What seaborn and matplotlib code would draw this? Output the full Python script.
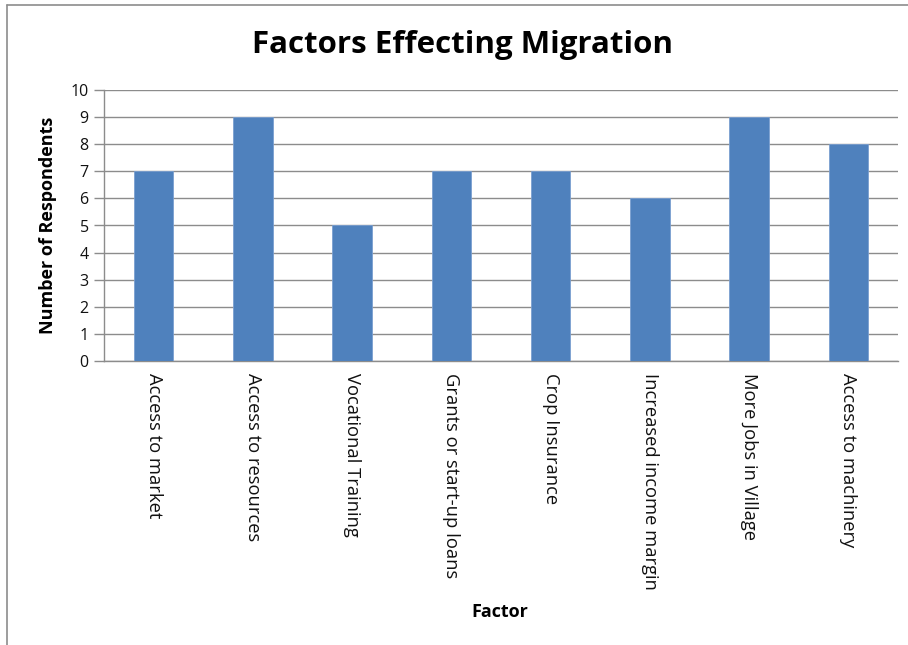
import matplotlib
matplotlib.use("Agg")
import matplotlib.pyplot as plt
import seaborn as sns
import pandas as pd
from matplotlib.lines import Line2D

factors = ["Access to market", "Access to resources", "Vocational Training",
           "Grants or start-up loans", "Crop Insurance", "Increased income margin",
           "More Jobs in Village", "Access to machinery"]
respondents = [7, 9, 5, 7, 7, 6, 9, 8]
y_ticks = list(range(0, 11))

df = pd.DataFrame({"Factor": factors, "Respondents": respondents})

sns.set_theme(style="white")
plt.rcParams["font.family"] = ["Open Sans", "DejaVu Sans"]

fig = plt.figure(figsize=(9.08, 6.45), dpi=100)
ax = fig.add_axes([104/908, 1-361/645, (898-104)/908, (361-90)/645])

sns.barplot(data=df, x="Factor", y="Respondents", ax=ax, color="#4F81BD",
            width=0.40, saturation=1, edgecolor="#7A9FD0", linewidth=0.6, zorder=3)

ax.set_ylim(0, 10)
ax.set_xlim(-0.5, len(factors) - 0.5)
ax.set_yticks(y_ticks)
ax.set_yticklabels([str(t) for t in y_ticks], fontsize=11.5, color="#111111")
ax.yaxis.grid(True, color="#8C8C8C", linewidth=1.0, zorder=0)
ax.set_axisbelow(True)

ax.tick_params(axis="y", which="both", left=True, length=7, width=1, color="#8C8C8C", pad=4)
ax.tick_params(axis="x", which="both", bottom=False, length=0, pad=9)
ax.set_xticks(range(len(factors)))
ax.set_xticklabels(factors, rotation=270, fontsize=13.2, color="#111111", va="top", ha="center")

for s in ["top", "right"]:
    ax.spines[s].set_visible(False)
ax.spines["left"].set_color("#8C8C8C")
ax.spines["bottom"].set_color("#8C8C8C")
ax.spines["left"].set_linewidth(1.0)
ax.spines["bottom"].set_linewidth(1.0)

ax.set_ylabel("Number of Respondents", fontsize=13, fontweight="bold", labelpad=10, color="black")
ax.set_xlabel("")
fig.text(500/908, 1-612/645, "Factor", fontsize=13, fontweight="bold", ha="center", va="center", color="black")

fig.text(463/908, 1-45/645, "Factors Effecting Migration", fontsize=22.5, fontweight="bold",
         ha="center", va="center", color="black")

# outer chart border (left and top visible)
fig.add_artist(Line2D([7/908, 7/908], [0, 1-5/645], transform=fig.transFigure, color="#8C8C8C", linewidth=1.2))
fig.add_artist(Line2D([7/908, 1], [1-5/645, 1-5/645], transform=fig.transFigure, color="#8C8C8C", linewidth=1.2))

fig.savefig("out.png", dpi=100)
